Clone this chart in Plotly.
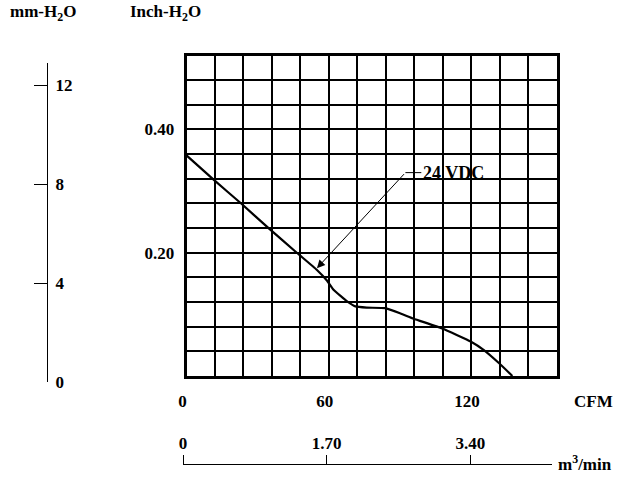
import plotly.graph_objects as go

# ---- data ----
cfm = [0, 11.3, 23.3, 34.6, 46.5, 55.0, 59.2, 62.0, 67.7, 71.2, 76.0, 83.8, 90.2, 95.8, 107.8, 119.8, 125.4, 131.7, 137.4]
inch_h2o = [0.358, 0.319, 0.279, 0.240, 0.200, 0.172, 0.155, 0.140, 0.121, 0.113, 0.111, 0.110, 0.1015, 0.093, 0.077, 0.056, 0.042, 0.021, 0.0]

cfm_ticks = [0, 60, 120]
cfm_ticklabels = ["0", "60", "120"]
cfm_step = 12
inch_ticks = [0.20, 0.40]
inch_ticklabels = ["0.20", "0.40"]
inch_step = 0.04
mm_ticks = [0, 4, 8, 12]
m3_ticks = [0, 1.70, 3.40]
m3_labels = ["0", "1.70", "3.40"]
series_name = "24 VDC"
arrow_tip = (55.0, 0.175)
arrow_tail = (92.3, 0.330)
label_pos = (99.0, 0.330)

W, H = 625, 478
FONT = "Liberation Serif"

def px_x(p):
    return p / W

def px_y(p):
    return 1 - p / H

fig = go.Figure()

fig.add_trace(go.Scatter(x=cfm, y=inch_h2o, mode="lines", line=dict(color="black", width=2.2, shape="spline", smoothing=0.4),
                         showlegend=False, hoverinfo="skip"))

# dummy traces for secondary axes
fig.add_trace(go.Scatter(x=[0], y=[0], xaxis="x2", yaxis="y3", mode="markers", marker=dict(opacity=0), showlegend=False, hoverinfo="skip"))
fig.add_trace(go.Scatter(x=[0], y=[0], xaxis="x3", yaxis="y2", mode="markers", marker=dict(opacity=0), showlegend=False, hoverinfo="skip"))

tickfont = dict(family=FONT, size=17, color="black", weight="bold")

fig.update_layout(
    width=W, height=H,
    template="none",
    margin=dict(l=0, r=0, t=0, b=0, autoexpand=False),
    paper_bgcolor="white", plot_bgcolor="white",
    xaxis=dict(domain=[px_x(186.5), px_x(556.5)], range=[0, 156], tickvals=cfm_ticks, ticktext=cfm_ticklabels,
               automargin=False, showgrid=True, gridcolor="black", gridwidth=2,
               minor=dict(tick0=0, dtick=cfm_step, showgrid=True, gridcolor="black", gridwidth=2, ticks=""),
               showline=True, linecolor="black", linewidth=2.5,
               mirror=True, ticks="", tickfont=tickfont, ticklabelstandoff=8, ticklabelshift=-4,
               zeroline=False, fixedrange=True),
    yaxis=dict(domain=[px_y(376), px_y(55.5)], range=[0, 0.52], tickvals=inch_ticks, ticktext=inch_ticklabels,
               automargin=False, showgrid=True, gridcolor="black", gridwidth=2,
               minor=dict(tick0=0, dtick=inch_step, showgrid=True, gridcolor="black", gridwidth=2, ticks=""),
               showline=True, linecolor="black", linewidth=2.5,
               mirror=True, ticks="", tickfont=tickfont, ticklabelstandoff=6, zeroline=False, fixedrange=True),
    xaxis2=dict(domain=[px_x(183), px_x(552)], range=[0, 4.365], anchor="free", position=px_y(464), side="top",
                tickvals=m3_ticks, ticktext=m3_labels, ticks="outside", ticklen=9, tickwidth=1.3, tickcolor="black",
                showline=True, linecolor="black", linewidth=1.3, showgrid=False, zeroline=False, tickfont=tickfont,
                ticklabelstandoff=-1, automargin=False, fixedrange=True),
    yaxis3=dict(domain=[0, 0.01], visible=False, anchor="x2", automargin=False, fixedrange=True),
    xaxis3=dict(domain=[0, 0.01], visible=False, anchor="y2", automargin=False, fixedrange=True),
    yaxis2=dict(domain=[px_y(382), px_y(63)], range=[0, 12.89], anchor="free", position=px_x(47), side="right",
                tickvals=mm_ticks, ticks="inside", ticklen=13, tickwidth=1.3, tickcolor="black",
                showline=True, linecolor="black", linewidth=1.3, showgrid=False, zeroline=False, tickfont=tickfont,
                ticklabelstandoff=4, automargin=False, fixedrange=True),
)

titlefont = dict(family=FONT, size=17, color="black", weight="bold")
fig.add_annotation(text="mm-H<sub>2</sub>O", xref="paper", yref="paper", x=px_x(8), y=px_y(13), xanchor="left", yanchor="middle",
                   showarrow=False, font=titlefont)
fig.add_annotation(text="Inch-H<sub>2</sub>O", xref="paper", yref="paper", x=px_x(128), y=px_y(13), xanchor="left", yanchor="middle",
                   showarrow=False, font=titlefont)
fig.add_annotation(text="CFM", xref="paper", yref="paper", x=px_x(593), y=px_y(401), xanchor="center", yanchor="middle",
                   showarrow=False, font=titlefont)
fig.add_annotation(text="m<sup>3</sup>/min", xref="paper", yref="paper", x=px_x(556), y=px_y(463), xanchor="left", yanchor="middle",
                   showarrow=False, font=titlefont)

# series label with leader arrow
fig.add_annotation(x=arrow_tip[0], y=arrow_tip[1], ax=arrow_tail[0], ay=arrow_tail[1], xref="x", yref="y", axref="x", ayref="y",
                   text="", showarrow=True, arrowhead=2, arrowsize=1.6, arrowwidth=1, arrowcolor="black")
fig.add_shape(type="line", xref="x", yref="y", x0=arrow_tail[0], y0=arrow_tail[1], x1=label_pos[0], y1=label_pos[1],
              line=dict(color="black", width=1))
fig.add_annotation(text=series_name, x=label_pos[0], y=label_pos[1], xref="x", yref="y", xanchor="left", yanchor="middle",
                   showarrow=False, font=dict(family=FONT, size=18, color="black", weight="bold"))

fig.write_html("out.html")
